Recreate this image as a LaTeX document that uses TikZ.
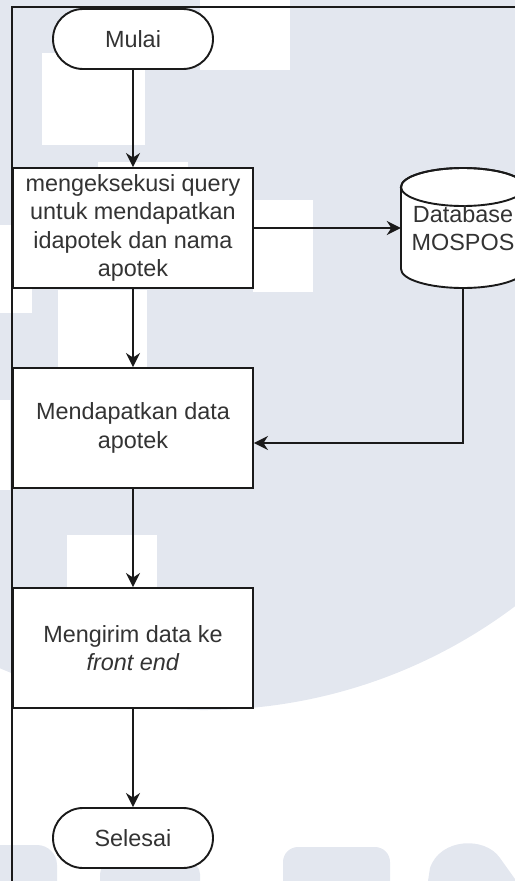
\documentclass[tikz,border=0pt]{standalone}
\usepackage{fontspec}
\setmainfont{Liberation Sans}
\usetikzlibrary{arrows.meta}
\definecolor{wm}{HTML}{E3E7EF}
\definecolor{ln}{HTML}{1A1A1A}
\definecolor{tx}{HTML}{333333}
\begin{document}
\begin{tikzpicture}[x=1bp,y=-1bp,
  every node/.style={font=\fontsize{23.4bp}{28.5bp}\selectfont, text=tx},
  proc/.style={draw=ln, line width=1.9bp, fill=white, minimum width=240bp,
    minimum height=120bp, align=center, inner sep=0pt},
  term/.style={draw=ln, line width=1.9bp, fill=white, minimum width=160bp,
    minimum height=60bp, rounded corners=30bp, inner sep=0pt},
  flow/.style={draw=ln, line width=1.9bp,
    -{Stealth[length=14bp,width=14bp,inset=4.5bp]}}
]
\useasboundingbox (0,0) rectangle (515,881);
\clip (0,0) rectangle (515,881);

% background watermark
\fill[wm] (204,192) circle (518bp);
\fill[white] (200,0) rectangle (290,70);
\fill[white] (42,53) rectangle (145,145);
\fill[white] (98,162) rectangle (188,170);
\fill[white] (253,200) rectangle (313,292);
\fill[white] (0,225) rectangle (32,313);
\fill[white] (58,290) rectangle (147,367);
\fill[white] (0,400) rectangle (10,490);
\fill[white] (67,535) rectangle (157,590);
\fill[wm, rounded corners=20bp] (-30,845) rectangle (57,910);
\fill[wm, rounded corners=12bp] (100,862) rectangle (200,910);
\fill[wm, rounded corners=15bp] (283,847) rectangle (390,910);
\fill[wm] (428,881) -- (430,868) .. controls (440,838) and (485,836) .. (500,858)
  -- (530,900) -- (530,881) -- cycle;

% lane frame
\draw[ln, line width=1.9bp] (12,890) -- (12,7) -- (520,7);

% flow steps
\node[term] (start) at (133,39) {Mulai};
\node[proc] (b1) at (133,228) {mengeksekusi query\\untuk mendapatkan\\idapotek dan nama\\apotek};
\node[proc] (b2) at (133,428) {Mendapatkan data\\apotek};
\node[proc] (b3) at (133,648) {Mengirim data ke\\\textit{front end}};
\node[term] (end) at (133,838) {Selesai};

% database cylinder
\filldraw[draw=ln, fill=white, line width=1.9bp]
  (401,187) -- (401,269)
  arc[start angle=180, end angle=360, x radius=62bp, y radius=19bp]
  -- (525,187)
  arc[start angle=0, end angle=180, x radius=62bp, y radius=19bp] -- cycle;
\draw[ln, line width=1.9bp] (463,187) ellipse [x radius=62bp, y radius=19bp];
\node[minimum width=124bp, minimum height=120bp, inner sep=0pt, align=center]
  (db) at (463,228) {Database\\MOSPOS};

% connectors
\draw[flow] (start) -- (b1);
\draw[flow] (b1) -- (db);
\draw[flow] (b1) -- (b2);
\draw[flow] (db.south) |- ([yshift=-15bp]b2.east);
\draw[flow] (b2) -- (b3);
\draw[flow] (b3) -- (end);
\end{tikzpicture}
\end{document}
